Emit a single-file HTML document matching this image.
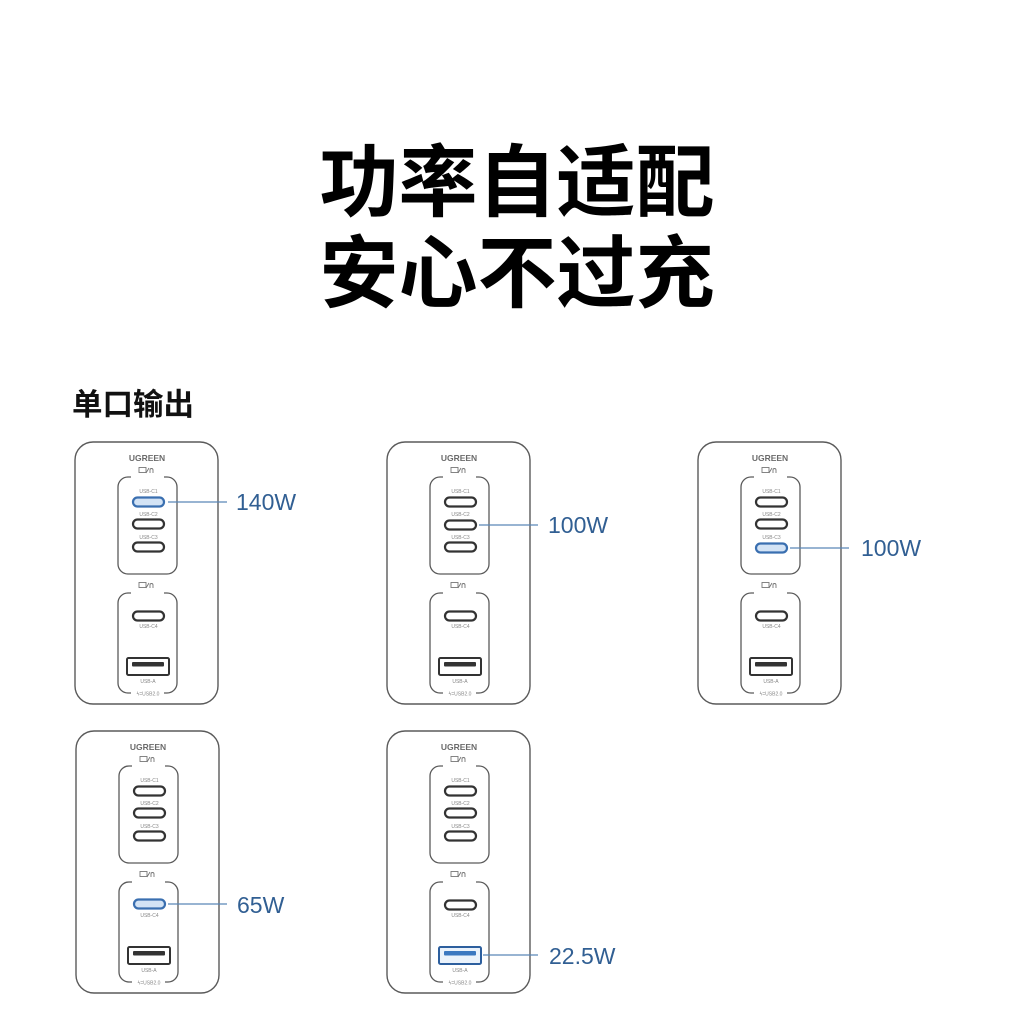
<!DOCTYPE html>
<html>
<head>
<meta charset="utf-8">
<style>
  html,body{margin:0;padding:0;background:#fff;}
  body{width:1024px;height:1018px;overflow:hidden;}
  svg{display:block;}
  .cjk{font-family:"Liberation Sans","Noto Sans CJK SC","WenQuanYi Zen Hei",sans-serif;}
  .lat{font-family:"Liberation Sans",sans-serif;}
</style>
</head>
<body>
<svg width="1024" height="1018" viewBox="0 0 1024 1018" xmlns="http://www.w3.org/2000/svg">
  <rect width="1024" height="1018" fill="#fff"/>

  <!-- Title -->
  <text class="cjk" x="517" y="210" font-size="79" font-weight="700" fill="#000" text-anchor="middle">功率自适配</text>
  <text class="cjk" x="517" y="301" font-size="79" font-weight="700" fill="#000" text-anchor="middle">安心不过充</text>

  <!-- Subtitle -->
  <text class="cjk" x="72" y="415" font-size="30.5" font-weight="700" fill="#111">单口输出</text>

  <!-- ============ Device 1 ============ -->
  <g transform="translate(75,442)">
    <rect x="0" y="0" width="143" height="262" rx="18" fill="none" stroke="#5a5a5a" stroke-width="1.4"/>
    <text class="lat" x="72" y="19" font-size="8.5" font-weight="bold" fill="#6a6a6a" text-anchor="middle">UGREEN</text>
    <g stroke="#777" stroke-width="0.9" fill="none">
      <rect x="64" y="25.5" width="7" height="5"/><line x1="71" y1="31" x2="74" y2="26"/><path d="M75 31 v-3 a1.5 1.5 0 0 1 3 0 v3"/>
      <rect x="64" y="140.5" width="7" height="5"/><line x1="71" y1="146" x2="74" y2="141"/><path d="M75 146 v-3 a1.5 1.5 0 0 1 3 0 v3"/>
    </g>
    <g fill="none" stroke="#5a5a5a" stroke-width="1.3">
      <path d="M56 35 H53 A10 10 0 0 0 43 45 V122 A10 10 0 0 0 53 132 H92 A10 10 0 0 0 102 122 V45 A10 10 0 0 0 92 35 H89"/>
      <path d="M56 151 H53 A10 10 0 0 0 43 161 V241 A10 10 0 0 0 53 251 H56 M89 251 H92 A10 10 0 0 0 102 241 V161 A10 10 0 0 0 92 151 H89"/>
    </g>
    <g class="lat" font-size="5" fill="#888" text-anchor="middle">
      <text x="73.5" y="51">USB-C1</text><text x="73.5" y="74">USB-C2</text><text x="73.5" y="97">USB-C3</text>
      <text x="73.5" y="186">USB-C4</text><text x="73" y="241">USB-A</text><text x="73" y="253.5">ϟ=USB2.0</text>
    </g>
    <rect x="58" y="55.5" width="31" height="9" rx="4.5" fill="#d3e3f5" stroke="#3a6fb0" stroke-width="2.2"/>
    <rect x="58" y="77.5" width="31" height="9" rx="4.5" fill="#fff" stroke="#333" stroke-width="2.2"/>
    <rect x="58" y="100.5" width="31" height="9" rx="4.5" fill="#fff" stroke="#333" stroke-width="2.2"/>
    <rect x="58" y="169.5" width="31" height="9" rx="4.5" fill="#fff" stroke="#333" stroke-width="2.2"/>
    <rect x="52" y="216" width="42" height="17" rx="1.5" fill="#fff" stroke="#333" stroke-width="2"/>
    <rect x="57" y="220" width="32" height="4.5" rx="1" fill="#333"/>
  </g>
  <line x1="168" y1="502" x2="227" y2="502" stroke="#5a87b8" stroke-width="1.2"/>
  <text class="lat" x="236" y="510" font-size="23" fill="#315f93">140W</text>

  <!-- ============ Device 2 ============ -->
  <g transform="translate(387,442)">
    <rect x="0" y="0" width="143" height="262" rx="18" fill="none" stroke="#5a5a5a" stroke-width="1.4"/>
    <text class="lat" x="72" y="19" font-size="8.5" font-weight="bold" fill="#6a6a6a" text-anchor="middle">UGREEN</text>
    <g stroke="#777" stroke-width="0.9" fill="none">
      <rect x="64" y="25.5" width="7" height="5"/><line x1="71" y1="31" x2="74" y2="26"/><path d="M75 31 v-3 a1.5 1.5 0 0 1 3 0 v3"/>
      <rect x="64" y="140.5" width="7" height="5"/><line x1="71" y1="146" x2="74" y2="141"/><path d="M75 146 v-3 a1.5 1.5 0 0 1 3 0 v3"/>
    </g>
    <g fill="none" stroke="#5a5a5a" stroke-width="1.3">
      <path d="M56 35 H53 A10 10 0 0 0 43 45 V122 A10 10 0 0 0 53 132 H92 A10 10 0 0 0 102 122 V45 A10 10 0 0 0 92 35 H89"/>
      <path d="M56 151 H53 A10 10 0 0 0 43 161 V241 A10 10 0 0 0 53 251 H56 M89 251 H92 A10 10 0 0 0 102 241 V161 A10 10 0 0 0 92 151 H89"/>
    </g>
    <g class="lat" font-size="5" fill="#888" text-anchor="middle">
      <text x="73.5" y="51">USB-C1</text><text x="73.5" y="74">USB-C2</text><text x="73.5" y="97">USB-C3</text>
      <text x="73.5" y="186">USB-C4</text><text x="73" y="241">USB-A</text><text x="73" y="253.5">ϟ=USB2.0</text>
    </g>
    <rect x="58" y="55.5" width="31" height="9" rx="4.5" fill="#fff" stroke="#333" stroke-width="2.2"/>
    <rect x="58" y="78.5" width="31" height="9" rx="4.5" fill="#fff" stroke="#333" stroke-width="2.2"/>
    <rect x="58" y="100.5" width="31" height="9" rx="4.5" fill="#fff" stroke="#333" stroke-width="2.2"/>
    <rect x="58" y="169.5" width="31" height="9" rx="4.5" fill="#fff" stroke="#333" stroke-width="2.2"/>
    <rect x="52" y="216" width="42" height="17" rx="1.5" fill="#fff" stroke="#333" stroke-width="2"/>
    <rect x="57" y="220" width="32" height="4.5" rx="1" fill="#333"/>
  </g>
  <line x1="479" y1="525" x2="538" y2="525" stroke="#5a87b8" stroke-width="1.2"/>
  <text class="lat" x="548" y="533" font-size="23" fill="#315f93">100W</text>

  <!-- ============ Device 3 ============ -->
  <g transform="translate(698,442)">
    <rect x="0" y="0" width="143" height="262" rx="18" fill="none" stroke="#5a5a5a" stroke-width="1.4"/>
    <text class="lat" x="72" y="19" font-size="8.5" font-weight="bold" fill="#6a6a6a" text-anchor="middle">UGREEN</text>
    <g stroke="#777" stroke-width="0.9" fill="none">
      <rect x="64" y="25.5" width="7" height="5"/><line x1="71" y1="31" x2="74" y2="26"/><path d="M75 31 v-3 a1.5 1.5 0 0 1 3 0 v3"/>
      <rect x="64" y="140.5" width="7" height="5"/><line x1="71" y1="146" x2="74" y2="141"/><path d="M75 146 v-3 a1.5 1.5 0 0 1 3 0 v3"/>
    </g>
    <g fill="none" stroke="#5a5a5a" stroke-width="1.3">
      <path d="M56 35 H53 A10 10 0 0 0 43 45 V122 A10 10 0 0 0 53 132 H92 A10 10 0 0 0 102 122 V45 A10 10 0 0 0 92 35 H89"/>
      <path d="M56 151 H53 A10 10 0 0 0 43 161 V241 A10 10 0 0 0 53 251 H56 M89 251 H92 A10 10 0 0 0 102 241 V161 A10 10 0 0 0 92 151 H89"/>
    </g>
    <g class="lat" font-size="5" fill="#888" text-anchor="middle">
      <text x="73.5" y="51">USB-C1</text><text x="73.5" y="74">USB-C2</text><text x="73.5" y="97">USB-C3</text>
      <text x="73.5" y="186">USB-C4</text><text x="73" y="241">USB-A</text><text x="73" y="253.5">ϟ=USB2.0</text>
    </g>
    <rect x="58" y="55.5" width="31" height="9" rx="4.5" fill="#fff" stroke="#333" stroke-width="2.2"/>
    <rect x="58" y="77.5" width="31" height="9" rx="4.5" fill="#fff" stroke="#333" stroke-width="2.2"/>
    <rect x="58" y="101.5" width="31" height="9" rx="4.5" fill="#d3e3f5" stroke="#3a6fb0" stroke-width="2.2"/>
    <rect x="58" y="169.5" width="31" height="9" rx="4.5" fill="#fff" stroke="#333" stroke-width="2.2"/>
    <rect x="52" y="216" width="42" height="17" rx="1.5" fill="#fff" stroke="#333" stroke-width="2"/>
    <rect x="57" y="220" width="32" height="4.5" rx="1" fill="#333"/>
  </g>
  <line x1="790" y1="548" x2="849" y2="548" stroke="#5a87b8" stroke-width="1.2"/>
  <text class="lat" x="861" y="556" font-size="23" fill="#315f93">100W</text>

  <!-- ============ Device 4 ============ -->
  <g transform="translate(76,731)">
    <rect x="0" y="0" width="143" height="262" rx="18" fill="none" stroke="#5a5a5a" stroke-width="1.4"/>
    <text class="lat" x="72" y="19" font-size="8.5" font-weight="bold" fill="#6a6a6a" text-anchor="middle">UGREEN</text>
    <g stroke="#777" stroke-width="0.9" fill="none">
      <rect x="64" y="25.5" width="7" height="5"/><line x1="71" y1="31" x2="74" y2="26"/><path d="M75 31 v-3 a1.5 1.5 0 0 1 3 0 v3"/>
      <rect x="64" y="140.5" width="7" height="5"/><line x1="71" y1="146" x2="74" y2="141"/><path d="M75 146 v-3 a1.5 1.5 0 0 1 3 0 v3"/>
    </g>
    <g fill="none" stroke="#5a5a5a" stroke-width="1.3">
      <path d="M56 35 H53 A10 10 0 0 0 43 45 V122 A10 10 0 0 0 53 132 H92 A10 10 0 0 0 102 122 V45 A10 10 0 0 0 92 35 H89"/>
      <path d="M56 151 H53 A10 10 0 0 0 43 161 V241 A10 10 0 0 0 53 251 H56 M89 251 H92 A10 10 0 0 0 102 241 V161 A10 10 0 0 0 92 151 H89"/>
    </g>
    <g class="lat" font-size="5" fill="#888" text-anchor="middle">
      <text x="73.5" y="51">USB-C1</text><text x="73.5" y="74">USB-C2</text><text x="73.5" y="97">USB-C3</text>
      <text x="73.5" y="186">USB-C4</text><text x="73" y="241">USB-A</text><text x="73" y="253.5">ϟ=USB2.0</text>
    </g>
    <rect x="58" y="55.5" width="31" height="9" rx="4.5" fill="#fff" stroke="#333" stroke-width="2.2"/>
    <rect x="58" y="77.5" width="31" height="9" rx="4.5" fill="#fff" stroke="#333" stroke-width="2.2"/>
    <rect x="58" y="100.5" width="31" height="9" rx="4.5" fill="#fff" stroke="#333" stroke-width="2.2"/>
    <rect x="58" y="168.5" width="31" height="9" rx="4.5" fill="#d3e3f5" stroke="#3a6fb0" stroke-width="2.2"/>
    <rect x="52" y="216" width="42" height="17" rx="1.5" fill="#fff" stroke="#333" stroke-width="2"/>
    <rect x="57" y="220" width="32" height="4.5" rx="1" fill="#333"/>
  </g>
  <line x1="168" y1="904" x2="227" y2="904" stroke="#5a87b8" stroke-width="1.2"/>
  <text class="lat" x="237" y="913" font-size="23" fill="#315f93">65W</text>

  <!-- ============ Device 5 ============ -->
  <g transform="translate(387,731)">
    <rect x="0" y="0" width="143" height="262" rx="18" fill="none" stroke="#5a5a5a" stroke-width="1.4"/>
    <text class="lat" x="72" y="19" font-size="8.5" font-weight="bold" fill="#6a6a6a" text-anchor="middle">UGREEN</text>
    <g stroke="#777" stroke-width="0.9" fill="none">
      <rect x="64" y="25.5" width="7" height="5"/><line x1="71" y1="31" x2="74" y2="26"/><path d="M75 31 v-3 a1.5 1.5 0 0 1 3 0 v3"/>
      <rect x="64" y="140.5" width="7" height="5"/><line x1="71" y1="146" x2="74" y2="141"/><path d="M75 146 v-3 a1.5 1.5 0 0 1 3 0 v3"/>
    </g>
    <g fill="none" stroke="#5a5a5a" stroke-width="1.3">
      <path d="M56 35 H53 A10 10 0 0 0 43 45 V122 A10 10 0 0 0 53 132 H92 A10 10 0 0 0 102 122 V45 A10 10 0 0 0 92 35 H89"/>
      <path d="M56 151 H53 A10 10 0 0 0 43 161 V241 A10 10 0 0 0 53 251 H56 M89 251 H92 A10 10 0 0 0 102 241 V161 A10 10 0 0 0 92 151 H89"/>
    </g>
    <g class="lat" font-size="5" fill="#888" text-anchor="middle">
      <text x="73.5" y="51">USB-C1</text><text x="73.5" y="74">USB-C2</text><text x="73.5" y="97">USB-C3</text>
      <text x="73.5" y="186">USB-C4</text><text x="73" y="241">USB-A</text><text x="73" y="253.5">ϟ=USB2.0</text>
    </g>
    <rect x="58" y="55.5" width="31" height="9" rx="4.5" fill="#fff" stroke="#333" stroke-width="2.2"/>
    <rect x="58" y="77.5" width="31" height="9" rx="4.5" fill="#fff" stroke="#333" stroke-width="2.2"/>
    <rect x="58" y="100.5" width="31" height="9" rx="4.5" fill="#fff" stroke="#333" stroke-width="2.2"/>
    <rect x="58" y="169.5" width="31" height="9" rx="4.5" fill="#fff" stroke="#333" stroke-width="2.2"/>
    <rect x="52" y="216" width="42" height="17" rx="1.5" fill="#eaf2fb" stroke="#2d5f9e" stroke-width="2"/>
    <rect x="57" y="220" width="32" height="4.5" rx="1" fill="#3b78c0"/>
  </g>
  <line x1="483" y1="955" x2="538" y2="955" stroke="#5a87b8" stroke-width="1.2"/>
  <text class="lat" x="549" y="964" font-size="23" fill="#315f93">22.5W</text>
</svg>
</body>
</html>
